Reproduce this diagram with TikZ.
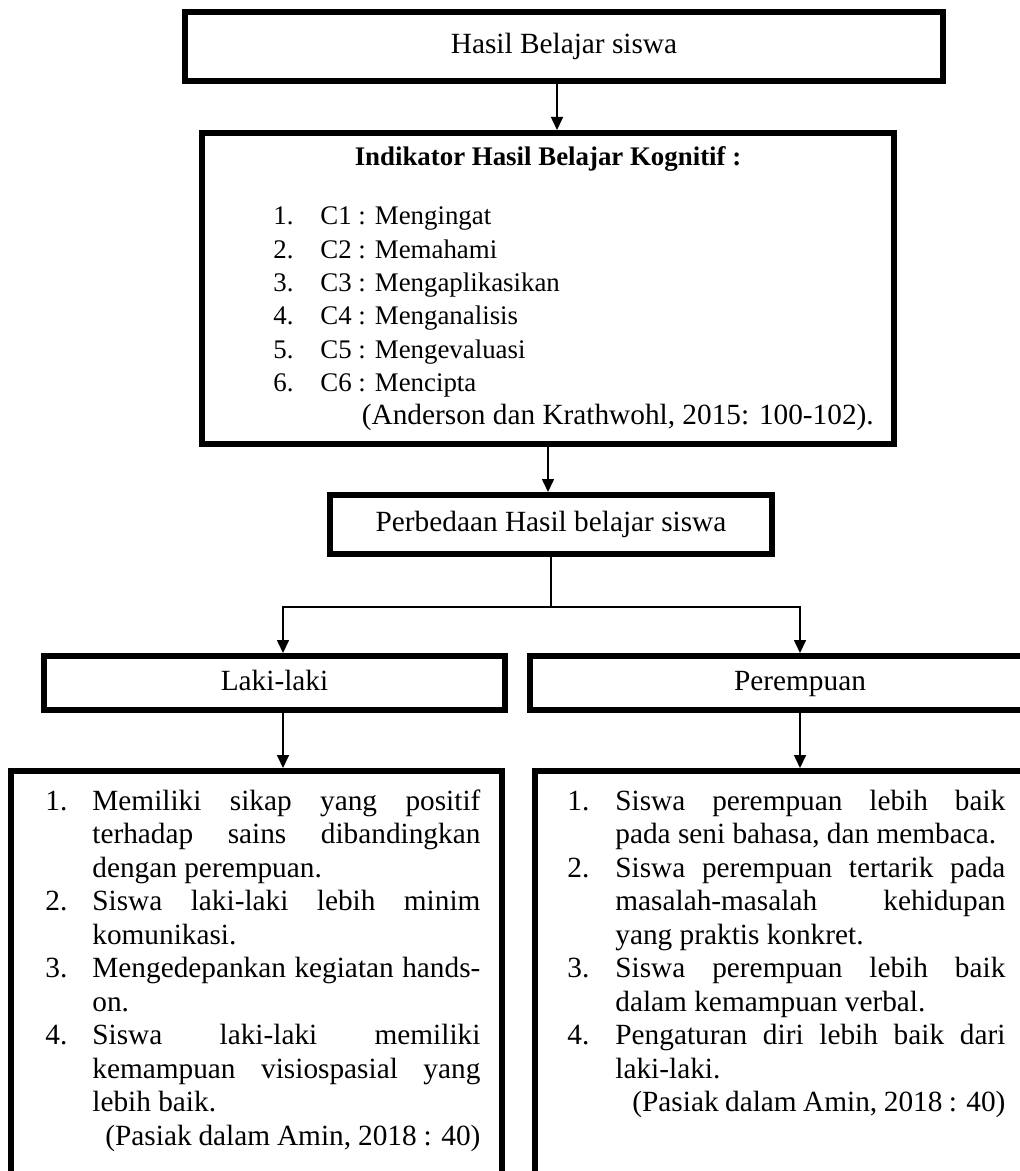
\documentclass[tikz,border=0pt]{standalone}
\usepackage{fontspec}
\setmainfont{Liberation Serif}
\usepackage{array}
\usetikzlibrary{arrows.meta}

\newcommand{\besar}{\fontsize{14.65pt}{16.75pt}\selectfont}
\newcommand{\kecil}{\fontsize{13.43pt}{16.65pt}\selectfont}
\hbadness=10000
\hyphenpenalty=10000
\exhyphenpenalty=10000

\tikzset{
  kotak/.style={draw, line width=3pt, inner sep=0pt, font=\besar, text height=10pt, text depth=3pt},
  isi/.style={inner sep=0pt, font=\besar},
  panah/.style={line width=0.8pt, -{Triangle[width=6pt,length=6.5pt]}},
}

\begin{document}
\begin{tikzpicture}[x=0.5pt, y=-0.5pt]
  \fill[white] (0,0) rectangle (1020,1171);
  \useasboundingbox (0,0) rectangle (1020,1171);
  \clip (0,0) rectangle (1020,1171);

  \node[kotak, minimum width=379pt, minimum height=34.5pt] (hasil) at (564,46.5) {Hasil Belajar siswa};
  \node[kotak, minimum width=346pt, minimum height=155.5pt] (indikator) at (548,288.5) {};
  \node[kotak, minimum width=221pt, minimum height=29.5pt] (beda) at (551,524.5) {Perbedaan Hasil belajar siswa};
  \node[kotak, minimum width=230.5pt, minimum height=27pt] (laki) at (274.5,683) {Laki-laki};
  \node[kotak, minimum width=270pt, minimum height=27pt] (puan) at (800,683) {Perempuan};
  \node[kotak, minimum width=245.5pt, minimum height=223pt] (lbox) at (256.5,994) {};
  \node[kotak, minimum width=267.5pt, minimum height=223pt] (rbox) at (802.5,994) {};

  \node[isi, font=\kecil\bfseries, anchor=base] (judul) at (548,166) {Indikator Hasil Belajar Kognitif :};
  \node[isi, font=\kecil, anchor=base west] (ranah) at (273,225) {%
    \begin{tabular}[t]{@{}p{23.5pt}@{}l@{}}
      1. & C1 : Mengingat\\
      2. & C2 : Memahami\\
      3. & C3 : Mengaplikasikan\\
      4. & C4 : Menganalisis\\
      5. & C5 : Mengevaluasi\\
      6. & C6 : Mencipta\\
         & \besar\hspace*{20.75pt}(Anderson dan Krathwohl, 2015: 100-102).
    \end{tabular}};

  \node[isi, anchor=base west] (ciri1) at (45,810) {%
    \begin{tabular}[t]{@{}p{23.5pt}@{}p{194pt}@{}}
      1. & Memiliki sikap yang positif\linebreak terhadap sains dibandingkan\linebreak dengan perempuan.\\
      2. & Siswa laki-laki lebih minim\linebreak komunikasi.\\
      3. & Mengedepankan kegiatan hands-\linebreak on.\\
      4. & Siswa laki-laki memiliki\linebreak kemampuan visiospasial yang\linebreak lebih baik.\\
         & \hspace*{6.5pt}(Pasiak dalam Amin, 2018 : 40)
    \end{tabular}};
  \node[isi, anchor=base west] (ciri2) at (567,810) {%
    \begin{tabular}[t]{@{}p{24pt}@{}p{195pt}@{}}
      1. & Siswa perempuan lebih baik\linebreak pada seni bahasa, dan membaca.\\
      2. & Siswa perempuan tertarik pada\linebreak masalah-masalah kehidupan\linebreak yang praktis konkret.\\
      3. & Siswa perempuan lebih baik\linebreak dalam kemampuan verbal.\\
      4. & Pengaturan diri lebih baik dari\linebreak laki-laki.\\
         & \hspace*{8.5pt}(Pasiak dalam Amin, 2018 : 40)
    \end{tabular}};

  \coordinate (kiri) at (283,607);
  \coordinate (kanan) at (800,607);
  \draw[panah] ([xshift=-3.5pt]hasil.south) -- ([xshift=4.5pt]indikator.north);
  \draw[panah] (indikator.south) -- (indikator.south |- beda.north);
  \draw[panah] (beda.south) |- (kiri) -- (kiri |- laki.north);
  \draw[panah] (beda.south |- kanan) -- (kanan) -- (kanan |- puan.north);
  \draw[panah] (kiri |- laki.south) -- (kiri |- lbox.north);
  \draw[panah] (kanan |- puan.south) -- (kanan |- rbox.north);
\end{tikzpicture}
\end{document}
